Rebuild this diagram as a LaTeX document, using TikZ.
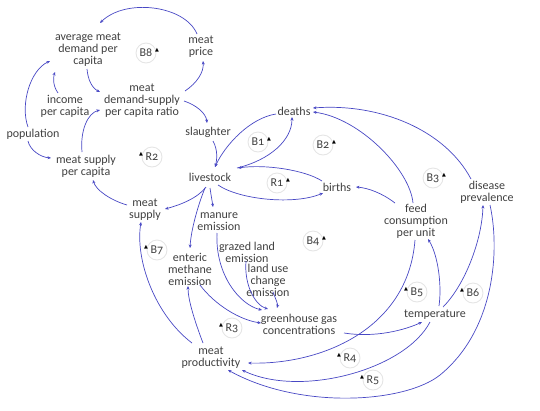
\documentclass[tikz,border=0pt]{standalone}
\usepackage{fontspec}
\setmainfont{Carlito}[Numbers=OldStyle]
\newfontfamily\dejavu{DejaVu Sans}
\usetikzlibrary{calc,arrows.meta}
\definecolor{txt}{RGB}{64,64,64}
\definecolor{lnkc}{RGB}{72,72,196}
\newcommand{\tri}{{\dejavu\fontsize{5}{5}\selectfont ▲}}
\newcommand{\nodefont}{\fontsize{12}{12}\selectfont}
\tikzset{
  box/.style={align=center,inner sep=1pt,text=txt,font=\nodefont},
  lnk/.style={draw=lnkc,line width=0.7pt,-{Stealth[length=3.5pt,width=3pt]}},
  loopbase/.style={circle,draw=black!10,line width=0.9pt,minimum size=20pt,inner sep=0pt,text=txt,font=\nodefont},
  loopr/.style={loopbase,label={[inner sep=0pt,xshift=-1.5pt,yshift=2.5pt]east:\tri}},
  loopl/.style={loopbase,label={[inner sep=0pt,xshift=1.5pt,yshift=2.5pt]west:\tri}}
}
\begin{document}
\begin{tikzpicture}[x=1pt,y=-1pt]
\useasboundingbox (0,0) rectangle (540,410);
% variables
\node[box] (avg) at (88,50) {average meat\\demand per\\capita};
\node[box] (price) at (201,47) {meat\\price};
\node[box] (ratio) at (142,101) {meat\\demand-supply\\per capita ratio};
\node[box] (income) at (65,106) {income\\per capita};
\node[box] (pop) at (33,134) {population};
\node[box] (slaughter) at (208,132) {slaughter};
\node[box] (mspc) at (86,166) {meat supply\\per capita};
\node[box] (livestock) at (210,177) {livestock};
\node[box] (deaths) at (294,111) {deaths};
\node[box] (births) at (337,187) {births};
\node[box] (disease) at (487,192) {disease\\prevalence};
\node[box] (feed) at (416,221) {feed\\consumption\\per unit};
\node[box] (msupply) at (145,210) {meat\\supply};
\node[box] (manure) at (219,222) {manure\\emission};
\node[box] (enteric) at (190,269) {enteric\\methane\\emission};
\node[box] (grazed) at (247,252) {grazed land\\emission};
\node[box] (landuse) at (268,280) {land use\\change\\emission};
\node[box] (ghg) at (299,324) {greenhouse gas\\concentrations};
\node[box] (temp) at (435,315) {temperature};
\node[box] (prod) at (211,358) {meat\\productivity};
% loop markers
\node[loopr] (b8) at (146,53) {B8};
\node[loopl] (r2) at (152,157) {R2};
\node[loopr] (b1) at (258,142) {B1};
\node[loopr] (b2) at (323,145) {B2};
\node[loopr] (r1) at (277,183) {R1};
\node[loopr] (b3) at (433,178) {B3};
\node[loopr] (b4) at (313,241) {B4};
\node[loopl] (b5) at (417,292) {B5};
\node[loopl] (b6) at (473,293) {B6};
\node[loopl] (b7) at (157,250) {B7};
\node[loopl] (r3) at (232,328) {R3};
\node[loopl] (r4) at (350,358) {R4};
\node[loopl] (r5) at (373,380) {R5};
% links
\draw[lnk] ($(price)+(-4,-13)$) .. controls (185,5) and (125,-2) .. ($(avg)+(12,-27)$);
\draw[lnk] ($(avg)+(-1,19)$) .. controls (88,80) and (92,88) .. ($(ratio)+(-42,-9)$);
\draw[lnk] ($(income)+(-7,-13)$) .. controls (53,86) and (53,78) .. ($(avg)+(-33,22)$);
\draw[lnk] ($(pop)+(-5,-7)$) .. controls (20,105) and (30,70) .. ($(avg)+(-38,11)$);
\draw[lnk] ($(pop)+(-5,7)$) .. controls (30,150) and (40,157) .. ($(mspc)+(-35,-8)$);
\draw[lnk] ($(mspc)+(-4,-14)$) .. controls (80,130) and (88,113) .. ($(ratio)+(-42,9)$);
\draw[lnk] ($(ratio)+(43,-10)$) .. controls (197,83) and (204,72) .. ($(price)+(2,14)$);
\draw[lnk] ($(ratio)+(42,0)$) .. controls (196,105) and (206,113) .. ($(slaughter)+(-1,-9)$);
\draw[lnk] ($(slaughter)+(5,9)$) .. controls (218,150) and (217,160) .. ($(livestock)+(5,-10)$);
\draw[lnk] ($(deaths)+(-18,3)$) .. controls (250,118) and (225,145) .. ($(livestock)+(5,-10)$);
\draw[lnk] ($(livestock)+(27,-9)$) .. controls (270,160) and (292,140) .. ($(deaths)+(-2,6)$);
\draw[lnk] ($(births)+(-15,-6)$) .. controls (305,170) and (265,164) .. ($(livestock)+(28,-9)$);
\draw[lnk] ($(livestock)+(8,8)$) .. controls (240,200) and (295,205) .. ($(births)+(-14,6)$);
\draw[lnk] ($(disease)+(-16,-13)$) .. controls (445,130) and (380,103) .. ($(deaths)+(19,-3)$);
\draw[lnk] ($(feed)+(-3,-18)$) .. controls (410,170) and (360,118) .. ($(deaths)+(19,1)$);
\draw[lnk] ($(feed)+(-21,-18)$) .. controls (382,193) and (368,188) .. ($(births)+(19,0)$);
\draw[lnk] ($(livestock)+(-4,10)$) .. controls (198,198) and (180,205) .. ($(msupply)+(20,-1)$);
\draw[lnk] ($(msupply)+(-18,-5)$) .. controls (110,200) and (96,190) .. ($(mspc)+(7,14)$);
\draw[lnk] ($(livestock)+(0,11)$) .. controls (211,195) and (212,200) .. ($(manure)+(-6,-15)$);
\draw[lnk] ($(livestock)+(-5,11)$) .. controls (198,205) and (191,230) .. ($(enteric)+(0,-21)$);
\draw[lnk] ($(manure)+(-2,11)$) .. controls (215,275) and (240,305) .. ($(ghg)+(-37,-14)$);
\draw[lnk] ($(grazed)+(-1,9)$) .. controls (244,285) and (255,305) .. ($(ghg)+(-31,-15)$);
\draw[lnk] ($(landuse)+(5,12)$) .. controls (276,300) and (278,304) .. ($(ghg)+(-22,-16)$);
\draw[lnk] ($(enteric)+(10,16)$) .. controls (215,305) and (240,320) .. ($(ghg)+(-38,-1)$);
\draw[lnk] ($(ghg)+(45,9)$) .. controls (375,338) and (405,330) .. ($(temp)+(-13,7)$);
\draw[lnk] ($(temp)+(4,-9)$) .. controls (442,285) and (438,255) .. ($(feed)+(12,18)$);
\draw[lnk] ($(temp)+(8,-8)$) .. controls (465,285) and (482,240) .. ($(disease)+(-4,13)$);
\draw[lnk] ($(feed)+(-1,19)$) .. controls (408,330) and (320,365) .. ($(prod)+(37,5)$);
\draw[lnk] ($(temp)+(-5,7)$) .. controls (405,370) and (300,398) .. ($(prod)+(31,12)$);
\draw[lnk] ($(disease)+(3,13)$) .. controls (500,250) and (495,330) .. (440,375) .. controls (405,403) and (300,410) .. ($(prod)+(17,12)$);
\draw[lnk] ($(prod)+(-19,-15)$) .. controls (155,315) and (135,260) .. ($(msupply)+(-4,12)$);
\draw[lnk] ($(prod)+(-8,-15)$) .. controls (195,322) and (188,300) .. ($(enteric)+(-2,17)$);
\end{tikzpicture}
\end{document}
